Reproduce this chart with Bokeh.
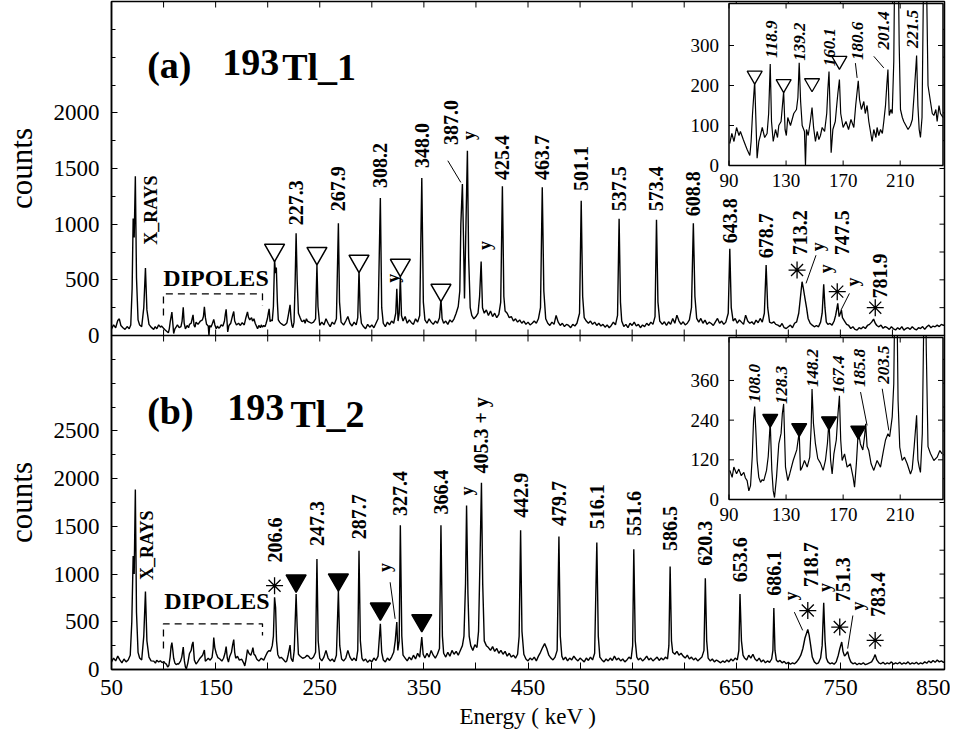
import math
from bokeh.plotting import figure
from bokeh.layouts import column
from bokeh.models import Range1d, FixedTicker
from bokeh.embed import file_html
from bokeh.resources import INLINE
from bokeh.core.properties import value

FONT = "Liberation Serif"

# ---------------- spectra (energy keV, counts) ----------------
spec_a_xray = [(50, 60), (52, 95), (54, 70), (56, 135), (57.5, 150), (59, 90), (61, 70), (63, 55), (65, 80),
               (67, 60), (68.5, 95), (69.8, 420), (70.8, 1050), (71.8, 880), (72.9, 1430), (74.0, 520),
               (75.5, 140), (77, 95), (79, 80), (81, 250), (82.6, 605), (84, 230), (86, 100)]
spec_a_dipole = [(88, 75), (90.5, 55), (92, 80), (93.5, 60), (95.3, 95), (97, 75), (98, 85), (100, 65),
                 (101.6, 50), (102.7, 40), (104.6, 25), (105.5, 60), (106.5, 130), (108.0, 210), (108.8, 120),
                 (109.7, 18), (110.9, 60), (112, 75), (113.3, 95), (115, 70), (116.7, 80), (117.8, 130),
                 (118.9, 254), (119.8, 110), (121, 60), (122.6, 90), (124, 70), (124.9, 100), (126.5, 110),
                 (128.3, 185), (129.3, 90), (130.2, 75), (131.2, 120), (133.1, 100), (135.4, 130), (137.3, 140),
                 (138.3, 170), (139.2, 257), (140.2, 160), (141.3, 100), (142.9, 85), (143.6, 0), (144.3, 90),
                 (145.5, 75), (147, 110), (148.2, 145), (149.3, 95), (150.6, 60), (151.8, 85), (153, 65),
                 (154.1, 75), (155.3, 95), (157, 85), (158.5, 130), (159.3, 190), (160.1, 235), (161, 120),
                 (161.6, 32), (162.8, 90), (164.5, 110), (165.5, 150), (166.3, 180), (167.4, 215), (168.3, 130),
                 (170, 95), (172, 110), (173.8, 90), (175.5, 115), (177.5, 95), (178.8, 150), (180.6, 212),
                 (181.5, 165), (182.8, 140), (184.5, 160), (185.5, 130), (186.8, 150), (188, 110), (190.3, 60),
                 (191.5, 90), (193, 70), (193.8, 95), (195, 75), (196.2, 90), (197.5, 80), (198.5, 110),
                 (199.7, 150), (200.6, 200), (201.4, 240), (202.3, 125), (203.5, 140), (204.4, 130), (205.5, 260),
                 (206.6, 680), (207.5, 560), (208.3, 610), (209.3, 300), (210.2, 140), (211.5, 120), (212.5, 110),
                 (214, 100), (215.5, 90), (217.2, 100), (218.5, 115), (219.8, 180), (221.5, 275), (222.4, 150),
                 (223.3, 90), (224.2, 70), (225.3, 120), (226.3, 450), (227.3, 919), (228.3, 500), (229.5, 200),
                 (231.2, 160), (232.5, 130), (233.6, 125), (235, 140), (235.9, 110), (237.2, 150), (238.2, 130),
                 (240, 120), (242, 110)]
spec_a_high = [(244, 120), (246, 150), (247.3, 633), (248.3, 260), (250, 90), (252, 120), (254, 95), (256, 150),
               (258, 110), (260, 80), (262, 120), (264, 100), (266, 150), (267.9, 1009), (269, 300), (270.5, 120),
               (273, 95), (275, 130), (277, 170), (279, 110), (281, 85), (283, 120), (285, 95), (286.5, 160),
               (287.7, 588), (288.8, 220), (290, 110), (292, 80), (294, 60), (296, 100), (298, 75), (300, 95),
               (302, 70), (304, 110), (306, 150), (308.2, 1234), (309.5, 250), (311, 110), (313, 80), (315, 120),
               (317, 95), (319, 130), (321, 110), (323, 200), (324, 420), (325.2, 130), (326.3, 200), (327.4, 530),
               (328.5, 180), (330, 130), (332, 170), (334, 110), (336, 140), (338, 115), (340, 100), (342, 150),
               (344, 120), (346, 180), (348.0, 1415), (349.5, 300), (351, 140), (353, 110), (355, 150), (357, 120),
               (359, 100), (361, 130), (363, 110), (365, 160), (366.4, 325), (367.5, 150), (369, 110), (371, 130),
               (373, 100), (375, 140), (377, 120), (379, 150), (381, 200), (383, 260), (384.5, 400), (385.5, 1000),
               (387.0, 1360), (388, 900), (389, 333), (390, 800), (391.8, 1660), (393, 700), (394.5, 250),
               (396, 180), (398, 150), (400, 170), (402, 200), (403.5, 350), (405, 665), (406.3, 250), (408, 200),
               (410, 230), (412, 180), (414, 220), (416, 170), (418, 200), (420, 160), (422, 190), (423.8, 300),
               (425.4, 1340), (426.8, 350), (428, 220), (430, 200), (432, 160), (434, 170), (436, 130), (438, 150),
               (440, 120), (442, 140), (444, 110), (446, 130), (448, 100), (450, 120), (452, 95), (454, 110),
               (456, 130), (458, 110), (460, 150), (462, 250), (463.7, 1331), (465.2, 400), (467, 150), (469, 110),
               (471, 90), (473, 120), (475, 100), (477, 180), (479, 120), (481, 90), (483, 110), (485, 80),
               (487, 100), (489, 90), (491, 70), (493, 100), (495, 85), (497, 110), (499.5, 200), (501.1, 1210),
               (502.5, 350), (504, 160), (506, 130), (508, 110), (510, 130), (512, 100), (514, 120), (516, 90),
               (518, 110), (520, 85), (522, 100), (524, 75), (526, 95), (528, 70), (530, 90), (532, 120), (534, 95),
               (536, 180), (537.5, 1048), (538.8, 300), (540, 130), (542, 80), (544, 100), (546, 70), (548, 110),
               (550, 90), (552, 120), (554, 85), (556, 100), (558, 70), (560, 95), (562, 80), (564, 110), (566, 90),
               (568, 120), (570, 100), (572, 170), (573.4, 1039), (574.8, 300), (576.5, 130), (579, 100),
               (581, 123), (583, 90), (585, 123), (587, 100), (589, 153), (591, 110), (593, 183), (595, 130),
               (597, 100), (599, 123), (601, 95), (603, 110), (605, 140), (607, 250), (608.8, 1009), (610.3, 350),
               (612, 153), (614, 120), (616, 153), (618, 110), (620, 138), (622, 100), (624, 120), (626, 108),
               (628, 90), (630, 123), (632, 153), (634, 110), (636, 130), (638, 100), (640, 120), (642.3, 200),
               (643.8, 778), (645.2, 250), (647, 130), (649, 153), (651, 110), (653, 140), (655, 120), (657, 100),
               (659, 183), (661, 130), (663, 110), (665, 123), (667, 100), (669, 138), (671, 115), (673, 153),
               (675, 120), (677, 200), (678.7, 633), (680.2, 250), (682, 120), (684, 110), (686, 123), (688, 100),
               (690, 93), (692, 80), (694, 108), (696, 70), (698, 63), (700, 78), (702, 93), (704, 70), (706, 110),
               (708, 123), (710, 200), (711.5, 330), (713.2, 483), (714.5, 420), (716, 333), (717.5, 250),
               (719, 153), (721, 110), (723, 93), (725, 78), (727, 90), (729, 78), (731, 120), (732.5, 200),
               (734, 459), (735.2, 250), (736.5, 120), (738, 100), (740, 108), (742, 93), (744, 130), (745.5, 183),
               (747.5, 288), (748.8, 170), (750, 200), (751, 228), (752, 160), (754, 130), (756, 100), (758, 90),
               (760, 63), (762, 78), (764, 55), (766, 48), (768, 70), (770, 60), (772, 78), (774, 63), (776, 90),
               (778, 100), (780, 120), (781.9, 147), (783.5, 110), (785, 90), (787, 78), (789, 93), (791, 65),
               (793, 80), (795, 70), (797, 55), (799, 78), (801, 60), (803, 50), (805, 70), (807, 55), (809, 80),
               (811, 48), (813, 63), (815, 70), (817, 55), (819, 78), (821, 60), (823, 50), (825, 70), (827, 63),
               (829, 80), (831, 55), (833, 78), (835, 93), (837, 70), (839, 85), (841, 78), (843, 93), (845, 80),
               (847, 100), (849, 90), (850, 95)]

spec_b_xray = [(50, 80), (52, 120), (54, 90), (56, 140), (58, 100), (60, 70), (62, 110), (64, 80), (66, 100),
               (68, 150), (69.5, 500), (70.8, 1190), (71.8, 1000), (72.9, 1886), (74, 600), (75.5, 180),
               (77, 120), (79, 100), (81, 350), (82.6, 816), (84, 300), (86, 130)]
spec_b_dipole = [(88, 90), (90.6, 88), (92.2, 67), (93.4, 98), (95.3, 78), (96.9, 92), (98.6, 72), (100.4, 82),
                 (101.5, 65), (102.7, 57), (103.9, 26), (105.1, 42), (106.3, 130), (107.2, 240), (108.0, 281),
                 (108.9, 200), (109.7, 118), (110.9, 67), (112.1, 52), (113.3, 60), (114.4, 57), (116.3, 88),
                 (117.5, 130), (118.9, 234), (120, 90), (121, 26), (121.9, 6), (123.3, 67), (124.9, 168),
                 (126.5, 200), (127.4, 260), (128.3, 289), (129.6, 98), (131.2, 57), (132.6, 78), (135, 118),
                 (137.5, 150), (139.2, 204), (140.1, 88), (141.3, 98), (142.9, 118), (144.8, 98), (146.6, 128),
                 (147.6, 220), (148.2, 334), (149.2, 230), (150.6, 168), (152.2, 124), (154.1, 110), (156, 88),
                 (157.6, 118), (159, 170), (160.1, 239), (161.2, 120), (162.3, 77), (163.5, 137), (165.2, 180),
                 (166.4, 260), (167.4, 314), (168.3, 180), (169.3, 118), (171, 138), (172.8, 98), (175.1, 108),
                 (177, 67), (178, 37), (179.3, 110), (180.6, 208), (182.1, 168), (183.8, 150), (185, 190),
                 (185.8, 229), (186.8, 160), (188, 148), (189.6, 108), (191.5, 88), (193.8, 118), (196.2, 98),
                 (198.1, 144), (199.7, 180), (201.4, 199), (202.6, 190), (203.5, 219), (204.4, 250), (205.5, 350),
                 (206.6, 757), (207.6, 650), (208.5, 300), (209.7, 158), (211.4, 118), (213, 128), (214.9, 108),
                 (217.2, 77), (218.4, 92), (219.8, 160), (221.5, 255), (222.4, 120), (223.3, 98), (224.2, 82),
                 (225.5, 200), (226.4, 500), (227.3, 792), (228.3, 450), (229.5, 160), (231.2, 139), (233.6, 118),
                 (235.9, 128), (237.8, 148), (239.4, 138), (240.5, 120), (242, 110)]
spec_b_high = [(244, 130), (246, 180), (247.3, 1157), (248.5, 300), (250, 120), (252, 90), (254, 130), (256, 200),
               (258, 120), (260, 90), (262, 110), (264, 80), (266, 150), (267.9, 826), (269.2, 250), (271, 110),
               (273, 90), (275, 120), (277, 200), (279, 130), (281, 95), (283, 120), (285, 90), (286.5, 200),
               (287.7, 1243), (289, 300), (290.5, 120), (292, 90), (294, 110), (296, 75), (298, 100), (300, 80),
               (302, 120), (304, 95), (306, 140), (308.2, 479), (309.5, 180), (311, 100), (313, 80), (315, 120),
               (317, 95), (319, 130), (321, 180), (322.5, 300), (324, 497), (325, 200), (326.3, 300), (327.4, 1511),
               (328.8, 350), (330, 150), (332, 120), (334, 90), (336, 130), (338, 100), (340, 150), (342, 110),
               (344, 170), (346, 130), (348.0, 340), (349.3, 160), (351, 120), (353, 170), (355, 130), (357, 200),
               (359, 150), (361, 120), (363, 160), (365, 220), (366.4, 1511), (367.8, 350), (369, 170), (371, 130),
               (373, 180), (375, 140), (377, 200), (379, 160), (381, 190), (383, 150), (385, 200), (387, 250),
               (388.5, 350), (390, 900), (391, 1719), (392.3, 800), (393.5, 350), (395, 250), (397, 200),
               (399, 260), (401, 230), (402.5, 400), (404, 1200), (405.3, 1956), (406.5, 900), (408, 300),
               (410, 250), (412, 230), (414, 200), (416, 240), (418, 190), (420, 220), (422, 170), (424, 200),
               (426, 160), (428, 190), (430, 140), (432, 170), (434, 130), (436, 150), (438, 120), (440, 160),
               (441.5, 350), (442.9, 1459), (444.2, 400), (446, 160), (448, 110), (450, 90), (452, 120), (454, 100),
               (456, 130), (458, 90), (460, 140), (462, 180), (464, 230), (466, 271), (468, 220), (470, 150),
               (472, 120), (474, 100), (476, 130), (478, 200), (479.7, 1393), (481, 350), (482.5, 140), (484, 100),
               (486, 130), (488, 90), (490, 120), (492, 100), (494, 140), (496, 110), (498, 90), (500, 120),
               (502, 100), (504, 80), (506, 120), (508, 95), (510, 130), (512, 100), (514, 170), (516.1, 1331),
               (517.5, 350), (519, 130), (521, 100), (523, 80), (525, 110), (527, 90), (529, 120), (531, 95),
               (533, 140), (535, 100), (537, 120), (539, 90), (541, 110), (543, 80), (545, 100), (547, 130),
               (549, 110), (550.5, 250), (551.6, 1261), (553, 300), (554.5, 130), (556, 100), (558, 120), (560, 90),
               (562, 110), (564, 140), (566, 100), (568, 120), (570, 90), (572, 110), (574, 130), (576, 95),
               (578, 120), (580, 100), (582, 130), (584, 110), (585.3, 250), (586.5, 1080), (587.8, 300),
               (589, 180), (591, 160), (593, 190), (595, 150), (597, 170), (599, 140), (601, 120), (603, 150),
               (605, 110), (607, 130), (609, 100), (611, 120), (613, 90), (615, 110), (617, 130), (619, 200),
               (620.3, 955), (621.6, 300), (623, 120), (625, 90), (627, 110), (629, 80), (631, 100), (633, 85),
               (635, 70), (637, 90), (639, 75), (641, 100), (643, 80), (645, 110), (647, 90), (649, 120), (651, 100),
               (652.5, 200), (653.6, 792), (655, 300), (656.5, 150), (658, 120), (660, 100), (662, 150), (664, 120),
               (666, 160), (668, 110), (670, 90), (672, 120), (674, 80), (676, 100), (678, 70), (680, 90), (682, 75),
               (684, 110), (685.2, 200), (686.1, 643), (687.2, 200), (688.5, 100), (690, 80), (692, 95), (694, 70),
               (696, 85), (698, 60), (700, 75), (702, 55), (704, 70), (706, 60), (708, 80), (710, 110), (712, 150),
               (714, 220), (716, 330), (718.7, 420), (720, 360), (721.5, 250), (723, 130), (725, 80), (727, 60),
               (729, 70), (731, 120), (732.5, 250), (734, 698), (735.3, 300), (736.5, 120), (738, 80), (740, 60),
               (742, 70), (744, 55), (746, 80), (748, 150), (749.5, 220), (751.3, 288), (752.5, 190), (754, 140),
               (755.5, 160), (757, 187), (758.5, 120), (760, 80), (762, 60), (764, 70), (766, 50), (768, 65),
               (770, 55), (772, 70), (774, 50), (776, 60), (778, 70), (780, 80), (782, 120), (783.4, 156), (785, 100),
               (787, 70), (789, 60), (791, 75), (793, 55), (795, 70), (797, 60), (799, 80), (801, 55), (803, 70),
               (805, 60), (807, 75), (809, 55), (811, 70), (813, 60), (815, 80), (817, 55), (819, 70), (821, 60),
               (823, 75), (825, 55), (827, 70), (829, 60), (831, 80), (833, 65), (835, 90), (837, 70), (839, 95),
               (841, 75), (843, 100), (845, 80), (847, 90), (849, 75), (850, 80)]

# ---------------- ticks / ranges ----------------
X_LIM = (50, 850)
x_major = [50, 150, 250, 350, 450, 550, 650, 750, 850]
x_minor = [100, 200, 300, 400, 500, 600, 700, 800]
YA_LIM = (0, 3000)
ya_labels = [0, 500, 1000, 1500, 2000]
ya_minor = [250, 750, 1250, 1750, 2250, 2500, 2750]
YB_LIM = (0, 3500)
yb_labels = [0, 500, 1000, 1500, 2000, 2500]
yb_minor = [250, 750, 1250, 1750, 2250, 2750, 3000, 3250]
INSET_X_LIM = (90, 240)
inset_x_ticks = [90, 130, 170, 210]
INSET_A_Y_LIM = (0, 405)
inset_a_y_ticks = [0, 100, 200, 300]
INSET_B_Y_LIM = (0, 490)
inset_b_y_ticks = [0, 120, 240, 360]

# ---------------- annotations (text, x keV, y counts) ----------------
title_a = [("(a)", 84.3, 2433), ("193", 156.3, 2452), ("Tl_1", 213.9, 2410)]
title_b = [("(b)", 84.3, 2709), ("193", 161.1, 2746), ("Tl_2", 221.9, 2678)]
peak_labels_a = [("227.3", 227.3, 991), ("267.9", 267.9, 1117), ("308.2", 308.2, 1324), ("348.0", 348.0, 1505),
                 ("387.0", 376, 1712), ("425.4", 425.4, 1397), ("463.7", 463.7, 1397), ("501.1", 501.1, 1297),
                 ("537.5", 537.5, 1117), ("573.4", 573.4, 1117), ("608.8", 608.8, 1072), ("643.8", 643.8, 829),
                 ("678.7", 678.7, 694), ("713.2", 711.7, 721), ("747.5", 751.7, 721), ("781.9", 788.2, 333)]
peak_labels_b = [("206.6", 206.6, 1122), ("247.3", 247.3, 1295), ("287.7", 287.7, 1365), ("327.4", 327.4, 1608),
                 ("366.4", 366.4, 1625), ("405.3 + y", 405.3, 2053), ("442.9", 442.9, 1591), ("479.7", 479.7, 1504),
                 ("516.1", 516.1, 1469), ("551.6", 551.6, 1399), ("586.5", 586.5, 1243), ("620.3", 620.3, 1087),
                 ("653.6", 653.6, 914), ("686.1", 686.1, 774), ("718.7", 721.9, 862), ("751.3", 752.6, 705),
                 ("783.4", 786.5, 549)]
y_marks_a = [(320, 473), (393.7, 1757), (408.8, 769), (728.3, 757), (736.6, 559), (761.9, 441)]
y_marks_b = [(312.8, 1021), (391, 1824), (702.6, 722), (734.8, 813), (767, 618)]
leaders_a = [(373, 1570, 385.5, 1375), (726.6, 721, 717, 468), (758.7, 378, 750.6, 228)]
leaders_b = [(317.6, 914, 322.4, 531), (705.8, 601, 713.8, 410), (762, 566, 757, 219)]
stars_a = [(708.4, 588), (747, 394), (783.5, 250)]
stars_b = [(206.6, 878), (718.7, 618), (749.4, 445), (783.4, 305)]
open_tri_a = [(206.6, 768), (247.3, 739), (287.7, 669), (327.4, 633), (366.4, 408)]
filled_tri_b = [(227.3, 930), (267.9, 941), (308.2, 636), (348.0, 514)]
xray_pos_a = (87.5, 1126)
xray_pos_b = (84.3, 1302)
dipoles_pos_a = (150.4, 514)
dipoles_pos_b = (151.3, 722)
bracket_a = ([99.9, 99.9, 195, 195], [180, 374, 374, 270])
bracket_b = ([99.9, 99.9, 195, 195], [219, 479, 479, 357])
inset_labels_a = [("118.9", 120, 269), ("139.2", 139.5, 262), ("160.1", 160.5, 248), ("180.6", 179.8, 264),
                  ("201.4", 198.1, 290), ("221.5", 218.4, 294)]
inset_labels_b = [("108.0", 108.0, 294), ("128.3", 126.5, 289), ("148.2", 148.3, 340), ("167.4", 166.5, 320),
                  ("185.8", 181.7, 340), ("203.5", 198.5, 350)]
inset_leaders_a = [(178.6, 256, 179.8, 219), (191.5, 273, 198.5, 244)]
inset_leaders_b = [(182.2, 325, 186.8, 224), (197.4, 335, 202, 209)]
inset_tri_a = [(108.0, 225), (128.3, 204), (148.2, 206), (167.4, 262)]
inset_tri_b = [(118.9, 244), (139.2, 216), (160.1, 237), (180.6, 209)]

# ---------------- layout constants ----------------
FW, FH = 833, 334
IN_L, IN_R, IN_B, IN_T = 617.5, 831.5, 170.0, 332.0   # inset box, px inside the frame


def cols(pairs):
    return [q[0] for q in pairs], [q[1] for q in pairs]


def add_text(p, xs, ys, txt, size, style="bold", angle=0.0, align="left", baseline="middle", **kw):
    p.text(x=xs, y=ys, text=txt, angle=angle, text_font=value(FONT), text_font_size=value(size),
           text_font_style=value(style), text_align=value(align), text_baseline=value(baseline),
           text_color="black", **kw)


def build_panel(ylim, ylabels, yminor, spectrum, inset_ylim, inset_yticks, bottom_axis, ann):
    p = figure(frame_width=FW, frame_height=FH, x_range=Range1d(*X_LIM), y_range=Range1d(*ylim),
               x_axis_location="below" if bottom_axis else None, y_axis_location="left",
               output_backend="svg", toolbar_location=None,
               min_border_left=103, min_border_right=6)
    p.grid.visible = False
    p.outline_line_color = "black"
    p.outline_line_width = 1.5
    p.outline_line_alpha = 1.0

    ay = p.yaxis[0]
    ay.ticker = FixedTicker(ticks=ylabels, minor_ticks=yminor)
    ay.major_tick_in, ay.major_tick_out = 6, 0
    ay.minor_tick_in, ay.minor_tick_out = 4, 0
    ay.major_label_text_font = FONT
    ay.major_label_text_font_size = "23px"
    ay.major_label_text_color = "black"
    ay.major_label_standoff = 12
    ay.axis_label = "counts"
    ay.axis_label_text_font = FONT
    ay.axis_label_text_font_size = "31px"
    ay.axis_label_text_font_style = "normal"
    ay.axis_label_text_color = "black"
    ay.axis_label_standoff = 12
    ay.axis_line_width = 1.5
    ay.major_tick_line_color = "black"
    ay.minor_tick_line_color = "black"

    if bottom_axis:
        ax = p.xaxis[0]
        ax.ticker = FixedTicker(ticks=x_major, minor_ticks=x_minor)
        ax.major_tick_in, ax.major_tick_out = 7, 0
        ax.minor_tick_in, ax.minor_tick_out = 7, 0
        ax.major_label_text_font = FONT
        ax.major_label_text_font_size = "23px"
        ax.major_label_text_color = "black"
        ax.major_label_standoff = 10
        ax.axis_label = "Energy ( keV )"
        ax.axis_label_text_font = FONT
        ax.axis_label_text_font_size = "23px"
        ax.axis_label_text_font_style = "normal"
        ax.axis_label_text_color = "black"
        ax.axis_label_standoff = 6
        ax.axis_line_width = 1.5

    # mirrored inward ticks
    x_all = sorted(x_major + x_minor)
    y_all = sorted(v for v in ylabels + yminor if v > 0)
    p.ray(x=x_all, y=ylim[1], length=6, length_units="screen", angle=-math.pi / 2, line_color="black")
    if not bottom_axis:
        p.ray(x=x_all, y=ylim[0], length=6, length_units="screen", angle=math.pi / 2, line_color="black")
    p.ray(x=X_LIM[1], y=y_all, length=5, length_units="screen", angle=math.pi, line_color="black")

    # main spectrum
    ex, cy = cols(spectrum)
    p.line(ex, cy, line_color="black", line_width=1.4)

    # labels
    t, lx, ly = zip(*ann["peaks"])
    add_text(p, list(lx), list(ly), list(t), "20px", angle=math.pi / 2)
    yx, yy = cols(ann["ymarks"])
    add_text(p, yx, yy, ["y"] * len(yx), "18px", angle=math.pi / 2)
    for (x0, y0, x1, y1) in ann["leaders"]:
        p.segment(x0=x0, y0=y0, x1=x1, y1=y1, line_color="black", line_width=1)
    sx, sy = cols(ann["stars"])
    p.scatter(sx, sy, marker="asterisk", size=17, line_color="black", line_width=1.3)
    tx, ty = cols(ann["tri"])
    p.scatter(tx, ty, marker="inverted_triangle", size=20, line_color="black", line_width=1.5,
              fill_color=ann["tri_fill"])
    add_text(p, [ann["xray"][0]], [ann["xray"][1]], ["X_RAYS"], "18px", angle=math.pi / 2, align="center")
    add_text(p, [ann["dip"][0]], [ann["dip"][1]], ["DIPOLES"], "24px", align="center")
    p.line(ann["bracket"][0], ann["bracket"][1], line_color="black", line_width=1.3, line_dash="7 5")
    for (s, x, y) in ann["title"]:
        add_text(p, [x], [y], [s], "38px")

    # inset through its own ranges
    kx = (INSET_X_LIM[1] - INSET_X_LIM[0]) / (IN_R - IN_L)
    ky = (inset_ylim[1] - inset_ylim[0]) / (IN_T - IN_B)
    p.extra_x_ranges = {"ix": Range1d(INSET_X_LIM[0] - IN_L * kx, INSET_X_LIM[1] + (FW - IN_R) * kx)}
    p.extra_y_ranges = {"iy": Range1d(inset_ylim[0] - IN_B * ky, inset_ylim[1] + (FH - IN_T) * ky)}
    R = dict(x_range_name="ix", y_range_name="iy")
    p.quad(left=INSET_X_LIM[0], right=INSET_X_LIM[1], bottom=inset_ylim[0], top=inset_ylim[1],
           fill_color="white", line_color="black", line_width=1.5, **R)
    sub = [q for q in spectrum if INSET_X_LIM[0] <= q[0] <= INSET_X_LIM[1]]
    ix, iy = cols(sub)
    p.line(ix, iy, line_color="black", line_width=1.2, **R)
    p.ray(x=inset_x_ticks, y=inset_ylim[0], length=5, length_units="screen", angle=math.pi / 2,
          line_color="black", **R)
    p.ray(x=inset_x_ticks, y=inset_ylim[1], length=5, length_units="screen", angle=-math.pi / 2,
          line_color="black", **R)
    p.ray(x=INSET_X_LIM[0], y=inset_yticks, length=5, length_units="screen", angle=0,
          line_color="black", **R)
    p.ray(x=INSET_X_LIM[1], y=inset_yticks, length=5, length_units="screen", angle=math.pi,
          line_color="black", **R)
    add_text(p, inset_x_ticks, [inset_ylim[0] - 15 * ky] * len(inset_x_ticks),
             [str(v) for v in inset_x_ticks], "19px", style="normal", align="center", **R)
    add_text(p, [INSET_X_LIM[0] - 10 * kx] * len(inset_yticks), inset_yticks,
             [str(v) for v in inset_yticks], "19px", style="normal", align="right", **R)
    t, lx, ly = zip(*ann["inset_labels"])
    add_text(p, list(lx), list(ly), list(t), "17px", style="bold italic", angle=math.pi / 2, **R)
    for (x0, y0, x1, y1) in ann["inset_leaders"]:
        p.segment(x0=x0, y0=y0, x1=x1, y1=y1, line_color="black", line_width=1, **R)
    tx, ty = cols(ann["inset_tri"])
    p.scatter(tx, ty, marker="inverted_triangle", size=15, line_color="black", line_width=1.3,
              fill_color=ann["tri_fill"], **R)
    return p


ann_a = dict(peaks=peak_labels_a, ymarks=y_marks_a, leaders=leaders_a, stars=stars_a, tri=open_tri_a,
             tri_fill="white", xray=xray_pos_a, dip=dipoles_pos_a, bracket=bracket_a, title=title_a,
             inset_labels=inset_labels_a, inset_leaders=inset_leaders_a, inset_tri=inset_tri_a)
ann_b = dict(peaks=peak_labels_b, ymarks=y_marks_b, leaders=leaders_b, stars=stars_b, tri=filled_tri_b,
             tri_fill="black", xray=xray_pos_b, dip=dipoles_pos_b, bracket=bracket_b, title=title_b,
             inset_labels=inset_labels_b, inset_leaders=inset_leaders_b, inset_tri=inset_tri_b)

p_a = build_panel(YA_LIM, ya_labels, ya_minor, spec_a_xray + spec_a_dipole + spec_a_high,
                  INSET_A_Y_LIM, inset_a_y_ticks, False, ann_a)
p_b = build_panel(YB_LIM, yb_labels, yb_minor, spec_b_xray + spec_b_dipole + spec_b_high,
                  INSET_B_Y_LIM, inset_b_y_ticks, True, ann_b)

p_a.min_border_top = 1
p_a.min_border_bottom = 14
p_b.min_border_top = 0
p_b.min_border_bottom = 50
p_b.margin = (-14, 0, 0, 0)
p_b.border_fill_alpha = 0.0

layout = column(p_a, p_b, spacing=0)
open("out.html", "w").write(file_html(layout, INLINE))
